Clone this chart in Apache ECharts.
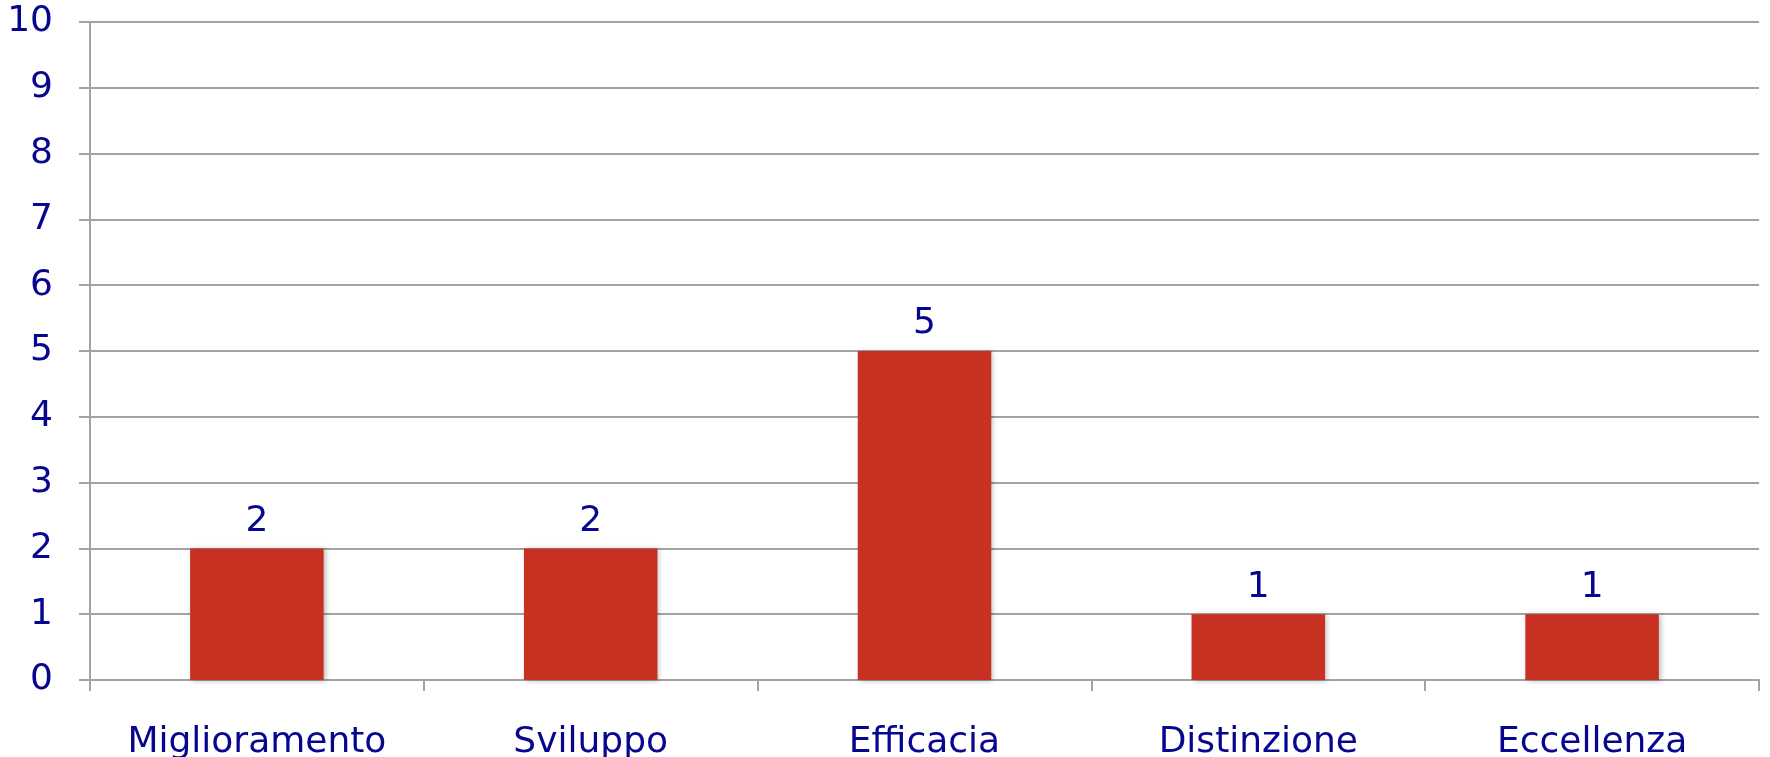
<!DOCTYPE html>
<html>
<head>
<meta charset="utf-8">
<script src="https://cdn.jsdelivr.net/npm/echarts@6/dist/echarts.min.js"></script>
<style>
  html, body { margin: 0; padding: 0; background: #ffffff; }
  #chart { width: 1770px; height: 757px; }
</style>
</head>
<body>
<div id="chart"></div>
<script>
// Numero di valutazioni per livello
const categories = ['Miglioramento', 'Sviluppo', 'Efficacia', 'Distinzione', 'Eccellenza'];
const counts = [2, 2, 5, 1, 1];
const yTicks = { min: 0, max: 10, interval: 1 };

const textColor = '#06068F';
const lineColor = '#A3A3A3';
const fontFamily = '"DejaVu Sans", Verdana, sans-serif';

const chart = echarts.init(document.getElementById('chart'), null, { renderer: 'canvas' });

chart.setOption({
  backgroundColor: '#ffffff',
  animation: false,
  grid: { left: 90, right: 11, top: 22, bottom: 77, containLabel: false, outerBoundsMode: 'none' },
  xAxis: {
    type: 'category',
    data: categories,
    axisLine: { show: true, lineStyle: { color: lineColor, width: 2 } },
    axisTick: { show: true, alignWithLabel: false, length: 11, lineStyle: { color: lineColor, width: 2 } },
    axisLabel: { color: textColor, fontFamily: fontFamily, fontSize: 36, margin: 45, interval: 0 },
    splitLine: { show: false }
  },
  yAxis: {
    type: 'value',
    min: yTicks.min,
    max: yTicks.max,
    interval: yTicks.interval,
    axisLine: { show: true, lineStyle: { color: lineColor, width: 2 } },
    axisTick: { show: true, length: 11, lineStyle: { color: lineColor, width: 2 } },
    axisLabel: { color: textColor, fontFamily: fontFamily, fontSize: 36, margin: 37, padding: [4, 0, 0, 0] },
    splitLine: { show: true, lineStyle: { color: lineColor, width: 2 } }
  },
  series: [{
    type: 'bar',
    data: counts,
    barCategoryGap: '60%',
    itemStyle: {
      color: '#C63122',
      shadowColor: 'rgba(0,0,0,0.25)',
      shadowBlur: 5,
      shadowOffsetX: 2,
      shadowOffsetY: 1
    },
    label: {
      show: true,
      position: 'top',
      distance: 9,
      color: textColor,
      fontFamily: fontFamily,
      fontSize: 36
    }
  }]
});
</script>
</body>
</html>
